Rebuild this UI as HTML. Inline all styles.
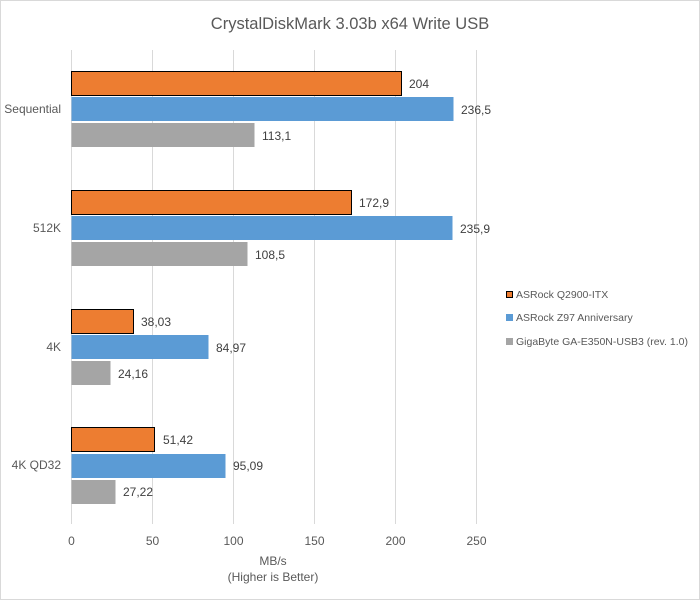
<!DOCTYPE html>
<html><head><meta charset="utf-8"><style>
body{margin:0;background:#fff}
svg{display:block;font-family:"Liberation Sans",sans-serif}
</style></head><body>
<svg width="700" height="600" viewBox="0 0 700 600">
<rect x="0.5" y="0.5" width="699" height="599" fill="#fff" stroke="#d9d9d9"/>
<text x="350" y="29" text-anchor="middle" font-size="16.5" fill="#595959">CrystalDiskMark 3.03b x64 Write USB</text>
<g stroke="#d9d9d9" stroke-width="1">
<line x1="71.5" y1="50" x2="71.5" y2="524"/>
<line x1="152.5" y1="50" x2="152.5" y2="524"/>
<line x1="233.5" y1="50" x2="233.5" y2="524"/>
<line x1="314.5" y1="50" x2="314.5" y2="524"/>
<line x1="395.5" y1="50" x2="395.5" y2="524"/>
<line x1="476.5" y1="50" x2="476.5" y2="524"/>
</g>
<g>
<rect x="71.5" y="71.5" width="330" height="24" fill="#ed7d31" stroke="#000"/>
<rect x="71.5" y="97" width="382" height="24" fill="#5b9bd5"/>
<rect x="71.5" y="123" width="183" height="24" fill="#a5a5a5"/>
<rect x="71.5" y="190.5" width="280" height="24" fill="#ed7d31" stroke="#000"/>
<rect x="71.5" y="216" width="381" height="24" fill="#5b9bd5"/>
<rect x="71.5" y="242" width="176" height="24" fill="#a5a5a5"/>
<rect x="71.5" y="309.5" width="62" height="24" fill="#ed7d31" stroke="#000"/>
<rect x="71.5" y="335" width="137" height="24" fill="#5b9bd5"/>
<rect x="71.5" y="361" width="39" height="24" fill="#a5a5a5"/>
<rect x="71.5" y="427.5" width="83" height="24" fill="#ed7d31" stroke="#000"/>
<rect x="71.5" y="454" width="154" height="24" fill="#5b9bd5"/>
<rect x="71.5" y="480" width="44" height="24" fill="#a5a5a5"/>
</g>
<g font-size="12" fill="#404040">
<text x="409" y="88">204</text>
<text x="461" y="114">236,5</text>
<text x="262" y="140">113,1</text>
<text x="359" y="207">172,9</text>
<text x="460" y="233">235,9</text>
<text x="255" y="259">108,5</text>
<text x="141" y="326">38,03</text>
<text x="216" y="352">84,97</text>
<text x="118" y="378">24,16</text>
<text x="163" y="444">51,42</text>
<text x="233" y="470">95,09</text>
<text x="123" y="496">27,22</text>
</g>
<g font-size="12" fill="#595959" text-anchor="end">
<text x="61" y="113">Sequential</text>
<text x="61" y="232">512K</text>
<text x="61" y="351">4K</text>
<text x="61" y="469">4K QD32</text>
</g>
<g font-size="12" fill="#595959" text-anchor="middle">
<text x="71.5" y="545">0</text>
<text x="152.5" y="545">50</text>
<text x="233.5" y="545">100</text>
<text x="314.5" y="545">150</text>
<text x="395.5" y="545">200</text>
<text x="476.5" y="545">250</text>
<text x="273" y="565">MB/s</text>
<text x="273" y="581">(Higher is Better)</text>
</g>
<g font-size="10.5" fill="#595959">
<rect x="506.5" y="291.5" width="6" height="6" fill="#ed7d31" stroke="#000"/>
<text x="516" y="298">ASRock Q2900-ITX</text>
<rect x="506" y="314" width="7" height="7" fill="#5b9bd5"/>
<text x="516" y="321">ASRock Z97 Anniversary</text>
<rect x="506" y="338" width="7" height="7" fill="#a5a5a5"/>
<text x="516" y="345">GigaByte GA-E350N-USB3 (rev. 1.0)</text>
</g>
</svg>
</body></html>
